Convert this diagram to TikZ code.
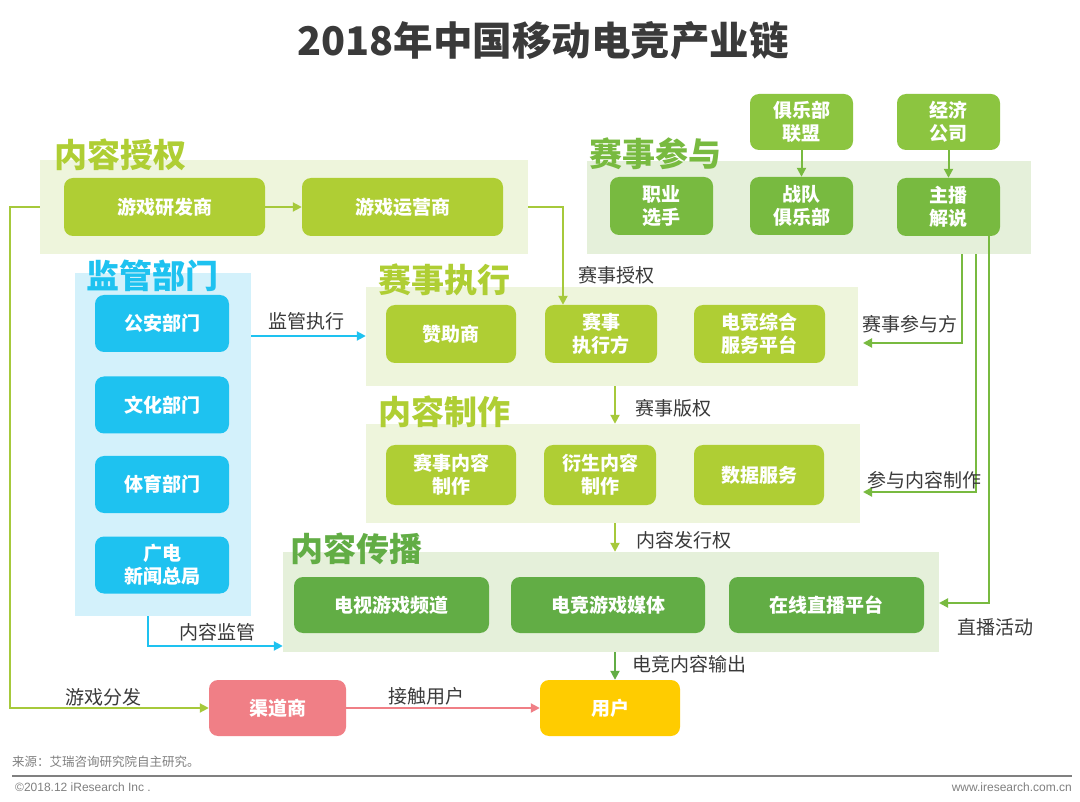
\documentclass[tikz,border=0pt]{standalone}
\usepackage{fontspec}
\setmainfont{Noto Sans CJK SC}
\newfontfamily\latinfont{Liberation Sans}
\usetikzlibrary{arrows.meta}
\definecolor{ygreen}{HTML}{AFCE34}
\definecolor{ygreenline}{HTML}{A6C93B}
\definecolor{mgreen}{HTML}{78BA40}
\definecolor{tgreen}{HTML}{8CC540}
\definecolor{dgreen}{HTML}{62AD45}
\definecolor{lightY}{HTML}{EEF5DC}
\definecolor{lightG}{HTML}{E5F0DA}
\definecolor{lightB}{HTML}{D3F1FB}
\definecolor{cyanB}{HTML}{1EC2F0}
\definecolor{pinkR}{HTML}{F07F86}
\definecolor{yellowU}{HTML}{FFCC00}
\definecolor{txtgray}{HTML}{3A3A3A}
\tikzset{
  panel/.style={draw=none, inner sep=0pt},
  plabel/.style={font=\fontsize{33}{36}\selectfont\bfseries, inner sep=0pt},
  box/.style={draw=none, rounded corners=9pt, text=white, align=center, inner sep=0pt,
    font=\fontsize{19}{23}\selectfont\bfseries},
  clabel/.style={font=\fontsize{19}{22}\selectfont, text=txtgray, inner sep=0pt},
  arr/.style={line width=2pt, -{Triangle[length=9pt,width=9pt]}},
}
\begin{document}
\begin{tikzpicture}[x=1pt,y=-1pt]
\useasboundingbox[fill=white] (0,0) rectangle (1080,802);
% title
\node[font=\fontsize{39.5}{42}\selectfont\bfseries, text=txtgray, inner sep=0pt] (title) at (543,41) {2018年中国移动电竞产业链};
% panels
\node[panel, fill=lightY, minimum width=488, minimum height=94] (pA) at (284,207) {};
\node[panel, fill=lightG, minimum width=444, minimum height=93] (pB) at (809,207.5) {};
\node[panel, fill=lightB, minimum width=176, minimum height=343] (pC) at (163,444.5) {};
\node[panel, fill=lightY, minimum width=492, minimum height=99] (pD) at (612,336.5) {};
\node[panel, fill=lightY, minimum width=494, minimum height=99] (pE) at (613,473.5) {};
\node[panel, fill=lightG, minimum width=656, minimum height=100] (pF) at (611,602) {};
% panel labels
\node[plabel, text=ygreen] (lA) at (120,155) {内容授权};
\node[plabel, text=mgreen] (lB) at (655,154) {赛事参与};
\node[plabel, text=cyanB] (lC) at (152,276) {监管部门};
\node[plabel, text=ygreen] (lD) at (444,280) {赛事执行};
\node[plabel, text=ygreen] (lE) at (444,412) {内容制作};
\node[plabel, text=dgreen] (lF) at (356,549) {内容传播};
% boxes: 内容授权
\node[box, fill=ygreen, minimum width=201, minimum height=58] (a1) at (164.5,207) {游戏研发商};
\node[box, fill=ygreen, minimum width=201, minimum height=58] (a2) at (402.5,207) {游戏运营商};
% 赛事参与
\node[box, fill=mgreen, minimum width=103, minimum height=58] (b1) at (661.5,206) {职业\\选手};
\node[box, fill=mgreen, minimum width=103, minimum height=58] (b2) at (801.5,206) {战队\\俱乐部};
\node[box, fill=mgreen, minimum width=103, minimum height=58] (b3) at (948.5,207) {主播\\解说};
\node[box, fill=tgreen, minimum width=103, minimum height=56] (b4) at (801.5,122) {俱乐部\\联盟};
\node[box, fill=tgreen, minimum width=103, minimum height=56] (b5) at (948.5,122) {经济\\公司};
% 监管部门
\node[box, fill=cyanB, minimum width=134, minimum height=57] (c1) at (162,323.5) {公安部门};
\node[box, fill=cyanB, minimum width=134, minimum height=57] (c2) at (162,405) {文化部门};
\node[box, fill=cyanB, minimum width=134, minimum height=57] (c3) at (162,484.5) {体育部门};
\node[box, fill=cyanB, minimum width=134, minimum height=57] (c4) at (162,565) {广电\\新闻总局};
% 赛事执行
\node[box, fill=ygreen, minimum width=130, minimum height=58] (d1) at (451,334) {赞助商};
\node[box, fill=ygreen, minimum width=112, minimum height=58] (d2) at (601,334) {赛事\\执行方};
\node[box, fill=ygreen, minimum width=131, minimum height=58] (d3) at (759.5,334) {电竞综合\\服务平台};
% 内容制作
\node[box, fill=ygreen, minimum width=130, minimum height=60] (e1) at (451,475) {赛事内容\\制作};
\node[box, fill=ygreen, minimum width=112, minimum height=60] (e2) at (600,475) {衍生内容\\制作};
\node[box, fill=ygreen, minimum width=130, minimum height=60] (e3) at (759,475) {数据服务};
% 内容传播
\node[box, fill=dgreen, minimum width=195, minimum height=56] (f1) at (391.5,605) {电视游戏频道};
\node[box, fill=dgreen, minimum width=194, minimum height=56] (f2) at (608,605) {电竞游戏媒体};
\node[box, fill=dgreen, minimum width=195, minimum height=56] (f3) at (826.5,605) {在线直播平台};
% bottom
\node[box, fill=pinkR, minimum width=137, minimum height=56] (g1) at (277.5,708) {渠道商};
\node[box, fill=yellowU, minimum width=140, minimum height=56] (g2) at (610,708) {用户};
% helper coordinates
\coordinate (vx) at (615,0);
\coordinate (k1) at (563,207);
\coordinate (k2) at (10,207);
\coordinate (k3) at (10,708);
\coordinate (r1) at (962,0);
\coordinate (r2) at (976,0);
\coordinate (r3) at (989,0);
\coordinate (m1) at (148,646);
\coordinate (m2) at (0,336);
% connectors
\draw[arr, ygreenline] (a1.east) -- (a2.west);
\draw[arr, ygreenline] (pA.east |- k1) -- (k1) -- (k1 |- d2.north);
\draw[arr, ygreenline] (pD.south -| vx) -- (pE.north -| vx);
\draw[arr, ygreenline] (pE.south -| vx) -- (pF.north -| vx);
\draw[arr, dgreen] (pF.south -| vx) -- (g2.north -| vx);
\draw[arr, cyanB] (pC.east |- m2) -- (pD.west |- m2);
\draw[arr, cyanB] (pC.south -| m1) -- (m1) -- (pF.west |- m1);
\draw[arr, ygreenline] (pA.west |- k2) -- (k2) -- (k3) -- (g1.west);
\draw[arr, pinkR] (g1.east) -- (g2.west);
\draw[arr, mgreen] (b4.south) -- (b2.north);
\draw[arr, mgreen] (b5.south) -- (b3.north);
\coordinate (t1) at (863,343);
\coordinate (t2) at (863,492);
\coordinate (t3) at (939,603);
\draw[arr, mgreen] (pB.south -| r1) -- (r1 |- t1) -- (t1);
\draw[arr, mgreen] (pB.south -| r2) -- (r2 |- t2) -- (t2);
\draw[arr, mgreen] (b3.south -| r3) -- (r3 |- t3) -- (t3);
% connector labels
\node[clabel] (L1) at (616,275) {赛事授权};
\node[clabel] (L2) at (306,321) {监管执行};
\node[clabel] (L3) at (673,408) {赛事版权};
\node[clabel] (L4) at (684,540) {内容发行权};
\node[clabel] (L5) at (689,664) {电竞内容输出};
\node[clabel] (L6) at (217,632) {内容监管};
\node[clabel] (L7) at (103,697) {游戏分发};
\node[clabel] (L8) at (426,696) {接触用户};
\node[clabel] (L9) at (910,324) {赛事参与方};
\node[clabel] (L10) at (924,480) {参与内容制作};
\node[clabel] (L11) at (995,627) {直播活动};
% footer
\node[font=\fontsize{12.5}{14}\selectfont, text=gray, anchor=west, inner sep=0pt] (src) at (12,762) {来源：艾瑞咨询研究院自主研究。};
\coordinate (fl) at (12,776);
\coordinate (fr) at (1072,776);
\draw[line width=1.2pt, gray] (fl) -- (fr);
\node[font=\latinfont\fontsize{12}{14}\selectfont, text=gray, anchor=west, inner sep=0pt] (copy) at (15,787) {©2018.12 iResearch Inc .};
\node[font=\latinfont\fontsize{12}{14}\selectfont, text=gray, anchor=east, inner sep=0pt] (web) at (1072,787) {www.iresearch.com.cn};
\end{tikzpicture}
\end{document}
